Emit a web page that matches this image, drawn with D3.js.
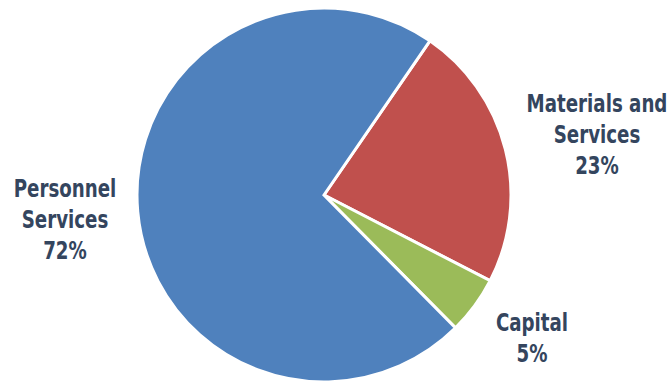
<!DOCTYPE html>
<html><head><meta charset="utf-8">
<script src="https://cdn.jsdelivr.net/npm/d3@7"></script>
<style>body{margin:0;background:#fff}svg{display:block}</style>
</head><body>
<script>
const categories = ["Materials and Services", "Capital", "Personnel Services"];
const values = [23, 5, 72];
const colors = ["#c0504d", "#9bbb59", "#4f81bd"];
const labelLines = [["Materials and", "Services", "23%"], ["Capital", "5%"], ["Personnel", "Services", "72%"]];

const W = 671, H = 382;
const cx = 324, cy = 195, R = 187;
const startDeg = 34.5;

const svg = d3.select("body").append("svg").attr("width", W).attr("height", H);
const pie = d3.pie().sort(null).value(d => d)
  .startAngle(startDeg * Math.PI / 180).endAngle((startDeg + 360) * Math.PI / 180);
const arc = d3.arc().innerRadius(0).outerRadius(R);
const arcs = pie(values);

const g = svg.append("g").attr("transform", `translate(${cx},${cy})`);
g.selectAll("path").data(arcs).join("path")
  .attr("d", arc)
  .attr("fill", (d, i) => colors[i])
  .attr("stroke", "#fff").attr("stroke-width", 3).attr("stroke-linejoin", "miter");

const labelPos = [[597, 103], [532, 322], [65, 188]];
const lh = 31;
const sx = 0.76;
labelLines.forEach((lines, i) => {
  const [x, y] = labelPos[i];
  const t = svg.append("g").attr("transform", `translate(${x},${y}) scale(${sx},1)`)
    .append("text")
    .attr("text-anchor", "middle")
    .attr("font-family", "'DejaVu Sans', sans-serif")
    .attr("font-weight", "bold").attr("font-size", 24)
    .attr("fill", "#34455e");
  lines.forEach((l, j) => {
    t.append("tspan").attr("x", 0).attr("y", j * lh)
      .attr("dy", "0.36em").text(l);
  });
});
</script>
</body></html>
